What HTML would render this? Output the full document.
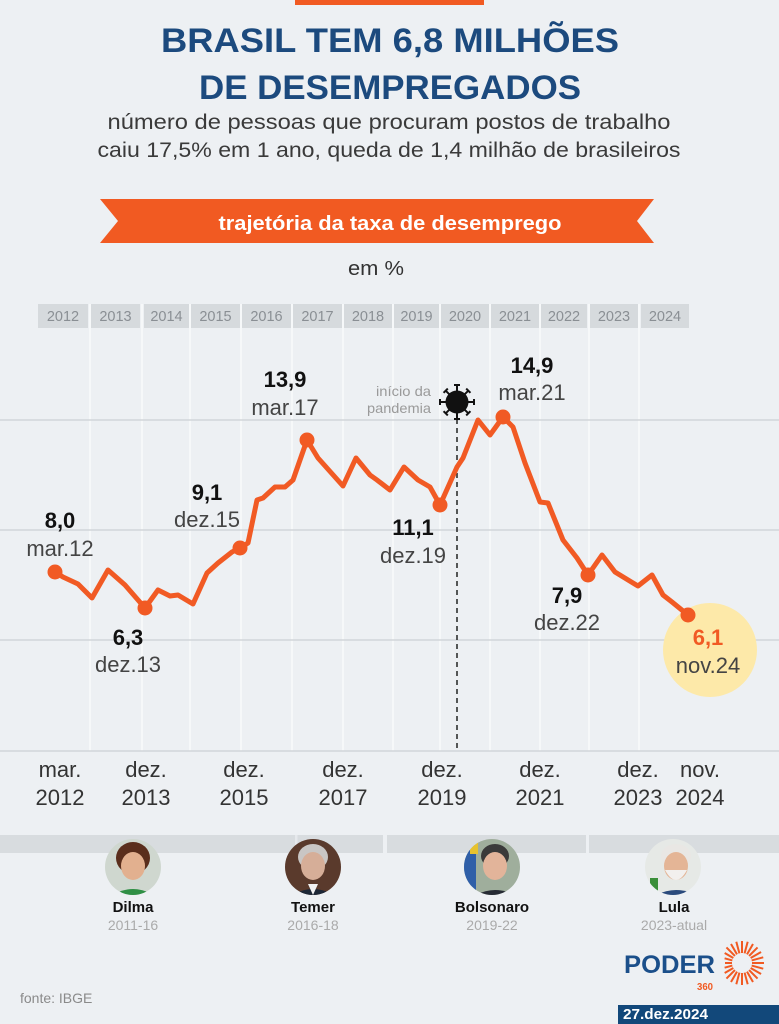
<!DOCTYPE html>
<html><head><meta charset="utf-8"><style>
html,body{margin:0;padding:0;background:#edf0f3;}
svg{display:block;}
text{font-family:"Liberation Sans",sans-serif;}
</style></head><body>
<svg width="779" height="1024" viewBox="0 0 779 1024" xmlns="http://www.w3.org/2000/svg">
<defs>
<clipPath id="c1"><circle cx="133" cy="867" r="28"/></clipPath>
<clipPath id="c2"><circle cx="313" cy="867" r="28"/></clipPath>
<clipPath id="c3"><circle cx="492" cy="867" r="28"/></clipPath>
<clipPath id="c4"><circle cx="673" cy="867" r="28"/></clipPath>
</defs>
<rect width="779" height="1024" fill="#edf0f3"/>
<rect x="295" y="0" width="189" height="5" fill="#f15a22"/>

<!-- title -->
<text x="390" y="52" text-anchor="middle" font-size="34" font-weight="bold" fill="#1c4a7e" textLength="458" lengthAdjust="spacingAndGlyphs">BRASIL TEM 6,8 MILHÕES</text>
<text x="390" y="99" text-anchor="middle" font-size="34" font-weight="bold" fill="#1c4a7e" textLength="382" lengthAdjust="spacingAndGlyphs">DE DESEMPREGADOS</text>
<text x="389" y="129" text-anchor="middle" font-size="21" fill="#3a3a3a" textLength="563" lengthAdjust="spacingAndGlyphs">número de pessoas que procuram postos de trabalho</text>
<text x="389" y="157" text-anchor="middle" font-size="21" fill="#3a3a3a" textLength="583" lengthAdjust="spacingAndGlyphs">caiu 17,5% em 1 ano, queda de 1,4 milhão de brasileiros</text>

<!-- ribbon -->
<polygon points="100,199 654,199 637,221 654,243 100,243 118,221" fill="#f15a22"/>
<text x="390" y="230" text-anchor="middle" font-size="20" font-weight="bold" fill="#ffffff" textLength="343" lengthAdjust="spacingAndGlyphs">trajetória da taxa de desemprego</text>
<text x="376" y="275" text-anchor="middle" font-size="20" fill="#333" textLength="56" lengthAdjust="spacingAndGlyphs">em %</text>

<!-- vertical white lines -->
<g stroke="#f9fafb" stroke-width="1.5">
<line x1="90" y1="304" x2="90" y2="751"/>
<line x1="142" y1="304" x2="142" y2="751"/>
<line x1="190" y1="304" x2="190" y2="751"/>
<line x1="241" y1="304" x2="241" y2="751"/>
<line x1="292" y1="304" x2="292" y2="751"/>
<line x1="343" y1="304" x2="343" y2="751"/>
<line x1="393" y1="304" x2="393" y2="751"/>
<line x1="440" y1="304" x2="440" y2="751"/>
<line x1="490" y1="304" x2="490" y2="751"/>
<line x1="540" y1="304" x2="540" y2="751"/>
<line x1="589" y1="304" x2="589" y2="751"/>
<line x1="639" y1="304" x2="639" y2="751"/>
</g>

<!-- year boxes -->
<g fill="#d6dadd">
<rect x="38" y="304" width="50" height="24"/>
<rect x="91" y="304" width="49" height="24"/>
<rect x="144" y="304" width="45" height="24"/>
<rect x="191" y="304" width="49" height="24"/>
<rect x="242" y="304" width="49" height="24"/>
<rect x="293" y="304" width="49" height="24"/>
<rect x="344" y="304" width="48" height="24"/>
<rect x="394" y="304" width="45" height="24"/>
<rect x="441" y="304" width="48" height="24"/>
<rect x="491" y="304" width="48" height="24"/>
<rect x="541" y="304" width="46" height="24"/>
<rect x="590" y="304" width="48" height="24"/>
<rect x="641" y="304" width="48" height="24"/>
</g>
<g font-size="14.5" fill="#8a8f94" text-anchor="middle">
<text x="63" y="321">2012</text>
<text x="115.5" y="321">2013</text>
<text x="166.5" y="321">2014</text>
<text x="215.5" y="321">2015</text>
<text x="266.5" y="321">2016</text>
<text x="317.5" y="321">2017</text>
<text x="368" y="321">2018</text>
<text x="416.5" y="321">2019</text>
<text x="465" y="321">2020</text>
<text x="515" y="321">2021</text>
<text x="564" y="321">2022</text>
<text x="614" y="321">2023</text>
<text x="665" y="321">2024</text>
</g>

<!-- horizontal gridlines -->
<g stroke="#d2d5d9" stroke-width="1.5">
<line x1="0" y1="420" x2="779" y2="420"/>
<line x1="0" y1="530" x2="779" y2="530"/>
<line x1="0" y1="640" x2="779" y2="640"/>
<line x1="0" y1="751" x2="779" y2="751"/>
</g>

<!-- pandemic marker -->
<line x1="457" y1="410" x2="457" y2="751" stroke="#222" stroke-width="1.5" stroke-dasharray="5,4"/>
<g transform="translate(457,402)" stroke="#111" stroke-width="2">
<line x1="0" y1="-11" x2="0" y2="-17"/><line x1="-3" y1="-17" x2="3" y2="-17"/>
<line x1="0" y1="11" x2="0" y2="17"/><line x1="-3" y1="17" x2="3" y2="17"/>
<line x1="-11" y1="0" x2="-17" y2="0"/><line x1="-17" y1="-3" x2="-17" y2="3"/>
<line x1="11" y1="0" x2="17" y2="0"/><line x1="17" y1="-3" x2="17" y2="3"/>
<g transform="rotate(45)">
<line x1="0" y1="-11" x2="0" y2="-16"/><line x1="-3" y1="-16" x2="3" y2="-16"/>
<line x1="0" y1="11" x2="0" y2="16"/><line x1="-3" y1="16" x2="3" y2="16"/>
<line x1="-11" y1="0" x2="-16" y2="0"/><line x1="-16" y1="-3" x2="-16" y2="3"/>
<line x1="11" y1="0" x2="16" y2="0"/><line x1="16" y1="-3" x2="16" y2="3"/>
</g>
<circle cx="0" cy="0" r="11.5" fill="#111" stroke="none"/>
</g>
<text x="431" y="396" text-anchor="end" font-size="14" fill="#9a9a9a" textLength="55" lengthAdjust="spacingAndGlyphs">início da</text>
<text x="431" y="413" text-anchor="end" font-size="14" fill="#9a9a9a" textLength="64" lengthAdjust="spacingAndGlyphs">pandemia</text>

<!-- highlight circle -->
<circle cx="710" cy="650" r="47" fill="#fde9a9"/>

<!-- series -->
<polyline fill="none" stroke="#f15a24" stroke-width="5" stroke-linejoin="round" stroke-linecap="round"
points="55,572 63,577 78,584 92,598 108,570 125,585 145,608 158,590 170,596 178,595 193,604 207,573 218,563 232,552 240,548 248,543 257,500 263,498 275,487 285,487 293,480 307,440 318,458 343,486 356,458 370,475 377,480 390,490 404,467 418,480 430,487 440,505 457,467 463,458 478,420 490,435 503,417 513,427 525,463 540,502 548,503 563,540 577,558 588,575 602,555 615,572 638,586 652,575 663,595 672,602 688,615"/>
<g fill="#f15a24">
<circle cx="55" cy="572" r="7.5"/>
<circle cx="145" cy="608" r="7.5"/>
<circle cx="240" cy="548" r="7.5"/>
<circle cx="307" cy="440" r="7.5"/>
<circle cx="440" cy="505" r="7.5"/>
<circle cx="503" cy="417" r="7.5"/>
<circle cx="588" cy="575" r="7.5"/>
<circle cx="688" cy="615" r="7.5"/>
</g>

<!-- annotations -->
<g text-anchor="middle" font-size="22">
<text x="60" y="528" font-weight="bold" fill="#111">8,0</text>
<text x="60" y="556" fill="#444">mar.12</text>
<text x="128" y="645" font-weight="bold" fill="#111">6,3</text>
<text x="128" y="672" fill="#444">dez.13</text>
<text x="207" y="500" font-weight="bold" fill="#111">9,1</text>
<text x="207" y="527" fill="#444">dez.15</text>
<text x="285" y="387" font-weight="bold" fill="#111">13,9</text>
<text x="285" y="415" fill="#444">mar.17</text>
<text x="413" y="535" font-weight="bold" fill="#111">11,1</text>
<text x="413" y="563" fill="#444">dez.19</text>
<text x="532" y="373" font-weight="bold" fill="#111">14,9</text>
<text x="532" y="400" fill="#444">mar.21</text>
<text x="567" y="603" font-weight="bold" fill="#111">7,9</text>
<text x="567" y="630" fill="#444">dez.22</text>
<text x="708" y="645" font-weight="bold" fill="#f15a24">6,1</text>
<text x="708" y="673" fill="#444">nov.24</text>
</g>

<!-- x axis labels -->
<g text-anchor="middle" font-size="22" fill="#333">
<text x="60" y="777">mar.</text><text x="60" y="805">2012</text>
<text x="146" y="777">dez.</text><text x="146" y="805">2013</text>
<text x="244" y="777">dez.</text><text x="244" y="805">2015</text>
<text x="343" y="777">dez.</text><text x="343" y="805">2017</text>
<text x="442" y="777">dez.</text><text x="442" y="805">2019</text>
<text x="540" y="777">dez.</text><text x="540" y="805">2021</text>
<text x="638" y="777">dez.</text><text x="638" y="805">2023</text>
<text x="700" y="777">nov.</text><text x="700" y="805">2024</text>
</g>

<!-- presidents band -->
<g fill="#d8dcdf">
<rect x="0" y="835" width="383" height="18"/>
<rect x="387" y="835" width="199" height="18"/>
<rect x="589" y="835" width="190" height="18"/>
</g>
<rect x="295" y="835" width="2.5" height="18" fill="#e6e9ec"/>

<!-- Dilma -->
<g clip-path="url(#c1)">
<rect x="100" y="835" width="70" height="70" fill="#cfd7cf"/>
<ellipse cx="133" cy="858" rx="17" ry="16" fill="#5a2e1c"/>
<ellipse cx="133" cy="866" rx="12" ry="14" fill="#e2b08f"/>
<path d="M105,900 Q133,878 161,900 Z" fill="#2f8f45"/>
</g>
<!-- Temer -->
<g clip-path="url(#c2)">
<rect x="280" y="835" width="70" height="70" fill="#5a3a2c"/>
<ellipse cx="313" cy="857" rx="15" ry="13" fill="#c9c6c4"/>
<ellipse cx="313" cy="866" rx="12" ry="14" fill="#d6ae98"/>
<path d="M285,900 Q313,878 341,900 Z" fill="#1d2736"/>
<path d="M308,884 L313,895 L318,884 Z" fill="#f2f2f2"/>
</g>
<!-- Bolsonaro -->
<g clip-path="url(#c3)">
<rect x="460" y="835" width="70" height="70" fill="#9fae9c"/>
<rect x="462" y="850" width="14" height="40" fill="#2f5fa8"/>
<rect x="470" y="840" width="8" height="14" fill="#e7c22e"/>
<ellipse cx="495" cy="856" rx="14" ry="12" fill="#3a3a3a"/>
<ellipse cx="495" cy="866" rx="12" ry="14" fill="#e2b49a"/>
<path d="M468,900 Q495,880 522,900 Z" fill="#262b34"/>
</g>
<!-- Lula -->
<g clip-path="url(#c4)">
<rect x="640" y="835" width="70" height="70" fill="#e6e9e6"/>
<ellipse cx="676" cy="856" rx="15" ry="12" fill="#e9e7e4"/>
<ellipse cx="676" cy="866" rx="12" ry="14" fill="#e4b596"/>
<path d="M665,870 Q676,890 687,870 Z" fill="#f2f0ee"/>
<path d="M648,900 Q676,880 704,900 Z" fill="#2a4a7c"/>
<rect x="650" y="878" width="8" height="20" fill="#3b8f3a"/>
</g>

<g text-anchor="middle">
<text x="133" y="912" font-size="15" font-weight="bold" fill="#111">Dilma</text>
<text x="133" y="930" font-size="14" fill="#aaa">2011-16</text>
<text x="313" y="912" font-size="15" font-weight="bold" fill="#111">Temer</text>
<text x="313" y="930" font-size="14" fill="#aaa">2016-18</text>
<text x="492" y="912" font-size="15" font-weight="bold" fill="#111">Bolsonaro</text>
<text x="492" y="930" font-size="14" fill="#aaa">2019-22</text>
<text x="674" y="912" font-size="15" font-weight="bold" fill="#111">Lula</text>
<text x="674" y="930" font-size="14" fill="#aaa">2023-atual</text>
</g>

<text x="20" y="1003" font-size="14" fill="#8a8a8a">fonte: IBGE</text>

<!-- logo -->
<text x="624" y="973" font-size="25" font-weight="bold" fill="#1b4f8a" textLength="91" lengthAdjust="spacingAndGlyphs">PODER</text>
<text x="697" y="990" font-size="10" font-weight="bold" fill="#f15a22" textLength="16" lengthAdjust="spacingAndGlyphs">360</text>
<g transform="translate(742,963)" stroke="#f15a22" stroke-width="2">
<line x1="10" y1="0" x2="22" y2="0"/>
<line x1="10" y1="0" x2="22" y2="0" transform="rotate(15)"/>
<line x1="10" y1="0" x2="22" y2="0" transform="rotate(30)"/>
<line x1="10" y1="0" x2="22" y2="0" transform="rotate(45)"/>
<line x1="10" y1="0" x2="22" y2="0" transform="rotate(60)"/>
<line x1="10" y1="0" x2="22" y2="0" transform="rotate(75)"/>
<line x1="10" y1="0" x2="22" y2="0" transform="rotate(90)"/>
<line x1="10" y1="0" x2="22" y2="0" transform="rotate(105)"/>
<line x1="10" y1="0" x2="22" y2="0" transform="rotate(120)"/>
<line x1="10" y1="0" x2="22" y2="0" transform="rotate(135)"/>
<line x1="10" y1="0" x2="20" y2="0" transform="rotate(150)"/>
<line x1="10" y1="0" x2="18" y2="0" transform="rotate(165)"/>
<line x1="10" y1="0" x2="17" y2="0" transform="rotate(180)"/>
<line x1="10" y1="0" x2="18" y2="0" transform="rotate(195)"/>
<line x1="10" y1="0" x2="20" y2="0" transform="rotate(210)"/>
<line x1="10" y1="0" x2="22" y2="0" transform="rotate(225)"/>
<line x1="10" y1="0" x2="22" y2="0" transform="rotate(240)"/>
<line x1="10" y1="0" x2="22" y2="0" transform="rotate(255)"/>
<line x1="10" y1="0" x2="22" y2="0" transform="rotate(270)"/>
<line x1="10" y1="0" x2="22" y2="0" transform="rotate(285)"/>
<line x1="10" y1="0" x2="22" y2="0" transform="rotate(300)"/>
<line x1="10" y1="0" x2="22" y2="0" transform="rotate(315)"/>
<line x1="10" y1="0" x2="22" y2="0" transform="rotate(330)"/>
<line x1="10" y1="0" x2="22" y2="0" transform="rotate(345)"/>
</g>
<rect x="618" y="1005" width="161" height="19" fill="#12487a"/>
<text x="623" y="1019" font-size="15" font-weight="bold" fill="#ffffff" textLength="85" lengthAdjust="spacingAndGlyphs">27.dez.2024</text>
</svg>
</body></html>
